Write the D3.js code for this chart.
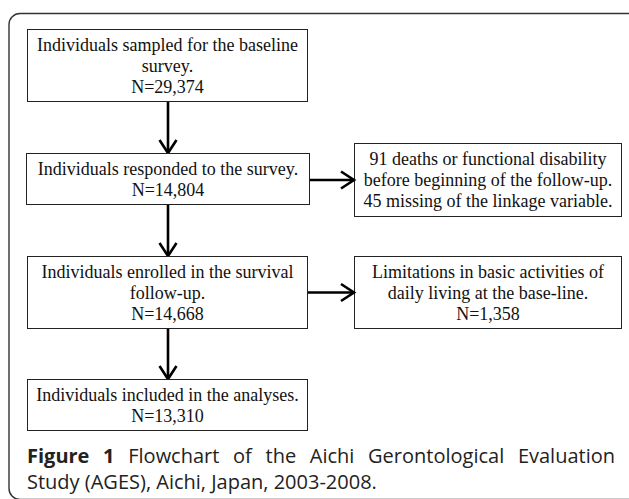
<!DOCTYPE html>
<html>
<head>
<meta charset="utf-8">
<script src="https://cdn.jsdelivr.net/npm/d3@7"></script>
<style>
  html, body { margin: 0; padding: 0; background: #fff; }
  svg { display: block; }
</style>
</head>
<body>
<svg id="chart" width="629" height="499"></svg>
<script>
// ---- data ----
const mainLabels = [
  ["Individuals sampled for the baseline", "survey."],
  ["Individuals responded to the survey."],
  ["Individuals enrolled in the survival", "follow-up."],
  ["Individuals included in the analyses."]
];
const mainCounts = ["29,374", "14,804", "14,668", "13,310"];
const exclusionLabels = [
  ["91 deaths or functional disability", "before beginning of the follow-up.", "45 missing of the linkage variable."],
  ["Limitations in basic activities of", "daily living at the base-line."]
];
const exclusionCounts = [null, "1,358"];
const exclusionFrom = [1, 2];   // main step each exclusion branches from
const captionBold = "Figure 1";
const captionLines = ["Flowchart of the Aichi Gerontological Evaluation", "Study (AGES), Aichi, Japan, 2003-2008."];

// ---- layout ----
const svg = d3.select("#chart");
const stroke = "#222";
const serif = "'Liberation Serif', 'Times New Roman', serif";
const lineH = 21;

const mainTop = d3.scaleOrdinal().domain([0,1,2,3]).range([29, 153, 256, 379]);
const mainBottom = d3.scaleOrdinal().domain([0,1,2,3]).range([101, 204, 328, 430]);
const mainX = d3.scaleOrdinal().domain([0,1,2,3]).range([[27,307],[26,309],[27,307],[27,307]]);
const exTop = d3.scaleOrdinal().domain([0,1]).range([143, 256]);
const exBottom = d3.scaleOrdinal().domain([0,1]).range([216, 328]);
const exX = [354, 621];
const flowX = 168;

// frame
svg.append("rect")
  .attr("x", 9).attr("y", 13.5).attr("width", 630).attr("height", 486)
  .attr("rx", 11).attr("ry", 11)
  .attr("fill", "none").attr("stroke", "#333").attr("stroke-width", 1.4);

function drawBox(x0, x1, y0, y1, lines) {
  svg.append("rect")
    .attr("x", x0 + 0.5).attr("y", y0 + 0.5)
    .attr("width", x1 - x0).attr("height", y1 - y0)
    .attr("fill", "#fff").attr("stroke", stroke).attr("stroke-width", 1);
  const cx = (x0 + x1) / 2 + 0.5;
  const cy = (y0 + y1) / 2;
  const n = lines.length;
  const t = svg.append("text")
    .attr("text-anchor", "middle")
    .attr("font-family", serif)
    .attr("font-size", 18)
    .attr("fill", "#111");
  lines.forEach((ln, i) => {
    t.append("tspan")
      .attr("x", cx)
      .attr("y", cy + 6.5 + (i - (n - 1) / 2) * lineH)
      .text(ln);
  });
}

function arrow(x1, y1, x2, y2) {
  const g = svg.append("g")
    .attr("stroke", "#000").attr("stroke-width", 2.6)
    .attr("fill", "none").attr("stroke-linecap", "butt");
  g.append("line").attr("x1", x1).attr("y1", y1).attr("x2", x2).attr("y2", y2 - (y2 > y1 ? 1 : 0));
  const ang = Math.atan2(y2 - y1, x2 - x1);
  const L = 13, W = 8.5;
  const bx = x2 - L * Math.cos(ang), by = y2 - L * Math.sin(ang);
  const px = -Math.sin(ang) * W, py = Math.cos(ang) * W;
  g.append("path")
    .attr("d", `M${bx + px},${by + py}L${x2},${y2}L${bx - px},${by - py}`)
    .attr("stroke-linejoin", "miter");
}

// main flow
mainLabels.forEach((lbl, i) => {
  const [x0, x1] = mainX(i);
  drawBox(x0, x1, mainTop(i), mainBottom(i), lbl.concat(["N=" + mainCounts[i]]));
  if (i < mainLabels.length - 1) {
    arrow(flowX, mainBottom(i) + 1, flowX, mainTop(i + 1));
  }
});

// exclusions
exclusionLabels.forEach((lbl, j) => {
  const lines = exclusionCounts[j] ? lbl.concat(["N=" + exclusionCounts[j]]) : lbl;
  drawBox(exX[0], exX[1], exTop(j), exBottom(j), lines);
  const src = exclusionFrom[j];
  const yMid = (exTop(j) + exBottom(j)) / 2 + 0.5;
  arrow(mainX(src)[1] + 1, yMid, exX[0], yMid);
});

// caption
const capFont = "'Open Sans', 'Noto Sans', sans-serif";
const capSize = 20;
const capFill = "#222";
const cap1 = svg.append("text")
  .attr("x", 27).attr("y", 463)
  .attr("font-family", capFont).attr("font-size", capSize).attr("fill", capFill)
  .attr("font-weight", 500);
cap1.append("tspan").attr("font-weight", "bold").text(captionBold);
cap1.append("tspan").text(" " + captionLines[0]);
const target = 615 - 27;
const natural = cap1.node().getComputedTextLength();
const spaces = (captionBold + " " + captionLines[0]).split(" ").length - 1;
cap1.attr("word-spacing", Math.max(0, (target - natural) / spaces));

svg.append("text")
  .attr("x", 27).attr("y", 489)
  .attr("font-family", capFont).attr("font-size", capSize).attr("fill", capFill)
  .attr("font-weight", 500)
  .text(captionLines[1]);
</script>
</body>
</html>
